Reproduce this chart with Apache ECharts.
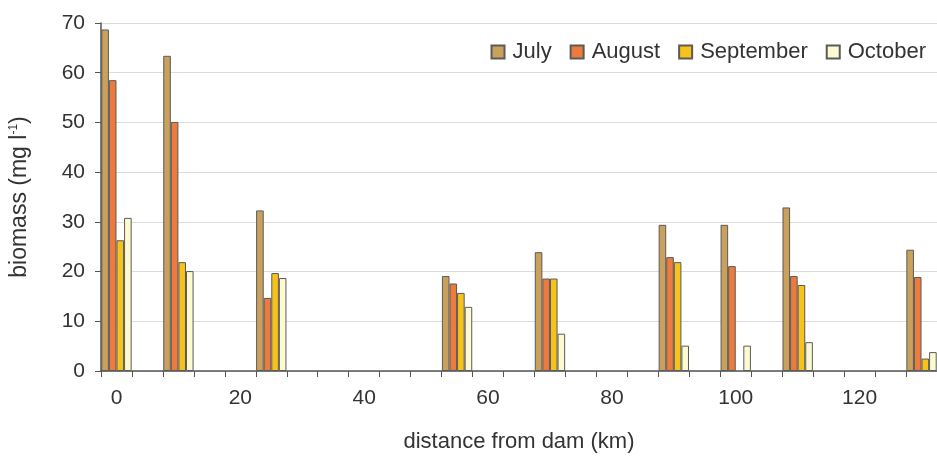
<!DOCTYPE html>
<html>
<head>
<meta charset="utf-8">
<script src="https://cdn.jsdelivr.net/npm/echarts@6/dist/echarts.min.js"></script>
<style>
  html, body { margin: 0; padding: 0; background: #fff; }
  #chart { width: 937px; height: 458px; }
</style>
</head>
<body>
<div id="chart"></div>
<script>
// distance categories (km), one every 5 km
var distances = ['0','5','10','15','20','25','30','35','40','45','50','55','60','65',
                 '70','75','80','85','90','95','100','105','110','115','120','125','130'];
// sampling sites (km) and biomass per month
var sites     = ['0', '10', '25', '55', '70', '90', '100', '110', '130'];
var july      = [68.7, 63.4, 32.3, 19.1, 23.9, 29.4, 29.4, 32.9, 24.4];
var august    = [58.5, 50.1, 14.7, 17.6, 18.6, 22.9, 21.1, 19.1, 18.9];
var september = [26.3, 21.9, 19.7, 15.7, 18.6, 21.9, null, 17.3, 2.5];
var october   = [30.8, 20.1, 18.7, 12.9, 7.5, 5.1, 5.1, 5.8, 3.8];
var yTicks = [0, 70, 10]; // min, max, interval

function toCategories(vals) {
  var out = distances.map(function () { return null; });
  sites.forEach(function (s, i) {
    out[distances.indexOf(s)] = vals[i];
  });
  return out;
}

var font = 'Liberation Sans, Arial, sans-serif';
var border = '#5a5a5a';

function barSeries(name, vals, color) {
  return {
    name: name,
    type: 'bar',
    data: toCategories(vals),
    barGap: '0%',
    barCategoryGap: '2%',
    itemStyle: { color: color, borderColor: border, borderWidth: 1 }
  };
}

var myChart = echarts.init(document.getElementById('chart'));
myChart.setOption({
  animation: false,
  textStyle: { fontFamily: font },
  grid: { left: 100, top: 23, bottom: 85, width: 839 },
  legend: {
    right: 6,
    top: 36,
    icon: 'rect',
    itemWidth: 13,
    itemHeight: 13,
    itemGap: 18,
    textStyle: { fontSize: 22, color: '#333', fontFamily: font, padding: [0, 0, 0, 3] },
    data: ['July', 'August', 'September', 'October']
  },
  xAxis: {
    type: 'category',
    data: distances,
    name: 'distance from dam (km)',
    nameLocation: 'middle',
    nameGap: 60,
    nameTextStyle: { fontSize: 22, color: '#333' },
    axisLine: { lineStyle: { color: '#555', width: 1.5 } },
    axisTick: { show: true, interval: 0, length: 6, lineStyle: { color: '#555' } },
    axisLabel: { interval: 3, fontSize: 21, color: '#333', margin: 17 },
    splitLine: { show: false }
  },
  yAxis: {
    type: 'value',
    min: yTicks[0],
    max: yTicks[1],
    interval: yTicks[2],
    name: 'biomass (mg l{sup|-1})',
    nameLocation: 'middle',
    nameGap: 70,
    nameTextStyle: {
      fontSize: 23, color: '#333',
      rich: { sup: { fontSize: 12, color: '#333', verticalAlign: 'top', padding: [0, 0, 10, 0] } }
    },
    axisLine: { show: true, lineStyle: { color: '#555', width: 1.5 } },
    axisTick: { show: true, length: 6, lineStyle: { color: '#555' } },
    axisLabel: { fontSize: 21, color: '#333', margin: 16 },
    splitLine: { lineStyle: { color: '#dcdcdc', width: 1 } }
  },
  series: [
    barSeries('July', july, '#C9A05C'),
    barSeries('August', august, '#EE7B3E'),
    barSeries('September', september, '#F6C21C'),
    barSeries('October', october, '#FDFAD2')
  ]
});
</script>
</body>
</html>
